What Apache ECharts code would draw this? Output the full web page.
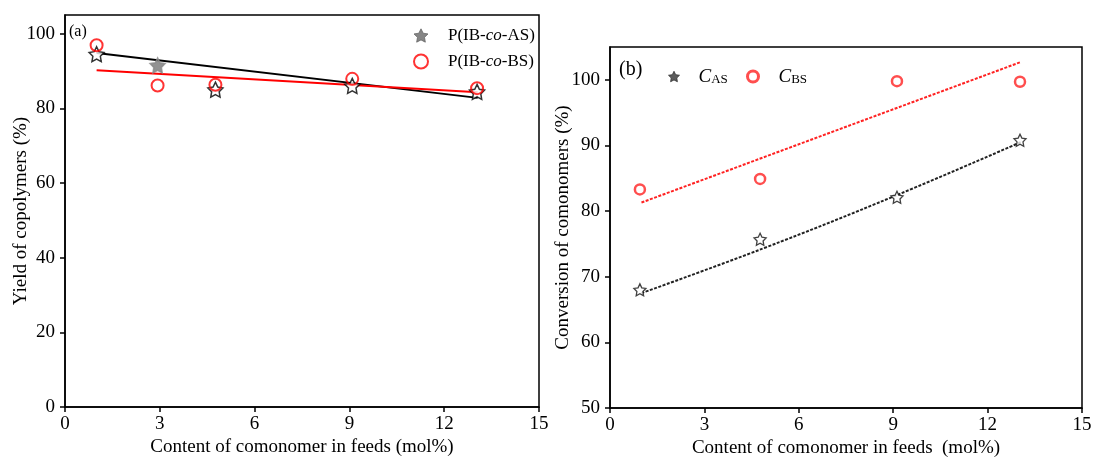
<!DOCTYPE html>
<html>
<head>
<meta charset="utf-8">
<script src="https://cdn.jsdelivr.net/npm/echarts@6/dist/echarts.min.js"></script>
<style>
html,body{margin:0;padding:0;background:#fff;}
#c{width:1094px;height:457px;}
</style>
</head>
<body>
<div id="c"></div>
<script>
// ---- data ----
const xTicks = [0, 3, 6, 9, 12, 15];
const yTicksA = [0, 20, 40, 60, 80, 100];
const yTicksB = [50, 60, 70, 80, 90, 100];

// panel (a)
const feedA = [1.0, 2.93, 4.76, 9.09, 13.04];
const yieldAS = [94.5, 91.5, 85.0, 86.0, 84.4];
const yieldBS = [96.9, 86.1, 86.3, 87.9, 85.4];
const fitXA = [1.0, 13.06];
const fitAS_A = [94.8, 82.8];
const fitBS_A = [90.2, 84.3];

// panel (b)
const feedB = [0.95, 4.77, 9.12, 13.03];
const convAS = [68.0, 75.7, 82.1, 90.8];
const convBS = [83.3, 84.9, 99.8, 99.7];
const curveX_AS = [1.0, 4.86, 9.1, 13.1];
const curveY_AS = [67.5, 74.3, 82.4, 90.6];
const fitXB = [1.0, 13.05];
const fitBS_B = [81.3, 102.7];

const FONT = 'Liberation Serif';
const STAR = 'path://M0,-10 L2.94,-4.05 9.51,-3.09 4.76,1.55 5.88,8.09 0,5 -5.88,8.09 -4.76,1.55 -9.51,-3.09 -2.94,-4.05 Z';

const zip = (xs, ys) => xs.map((x, i) => [x, ys[i]]);

function xAxis(gridIndex) {
  return {
    type: 'value', gridIndex, min: 0, max: 15, interval: 3,
    name: 'Content of comonomer in feeds ' + (gridIndex ? ' (mol%)' : '(mol%)'),
    nameLocation: 'middle', nameGap: 31, nameMoveOverlap: false,
    nameTextStyle: {fontFamily: FONT, fontSize: 19, color: '#000'},
    axisLine: {show: true, lineStyle: {color: '#000', width: 1.5}},
    axisTick: {show: true, inside: false, length: 5, customValues: xTicks, lineStyle: {color: '#000', width: 1.5}},
    axisLabel: {fontFamily: FONT, fontSize: 19, color: '#000', margin: 8, customValues: xTicks},
    splitLine: {show: false}
  };
}
function yAxis(gridIndex, min, max, ticks, name, gap) {
  return {
    type: 'value', gridIndex, min, max,
    name, nameLocation: 'middle', nameGap: gap, nameMoveOverlap: false,
    nameTextStyle: {fontFamily: FONT, fontSize: 19, color: '#000'},
    axisLine: {show: true, lineStyle: {color: '#000', width: 1.5}},
    axisTick: {show: true, inside: false, length: 5, customValues: ticks, lineStyle: {color: '#000', width: 1.5}},
    axisLabel: {fontFamily: FONT, fontSize: 19, color: '#000', margin: 10, customValues: ticks},
    splitLine: {show: false}
  };
}

const option = {
  animation: false,
  backgroundColor: '#fff',
  grid: [
    {left: 65, right: 555, top: 15, bottom: 50, show: true, borderColor: '#000', borderWidth: 1.5,
     outerBoundsMode: 'none', containLabel: false},
    {left: 610, right: 12, top: 47, bottom: 49, show: true, borderColor: '#000', borderWidth: 1.5,
     outerBoundsMode: 'none', containLabel: false}
  ],
  xAxis: [xAxis(0), xAxis(1)],
  yAxis: [
    yAxis(0, 0, 105, yTicksA, 'Yield of copolymers (%)', 34),
    yAxis(1, 50, 105, yTicksB, 'Conversion of comonomers (%)', 37)
  ],
  legend: [
    {
      orient: 'vertical', left: 408, top: 22, itemWidth: 14, itemHeight: 14, itemGap: 9,
      data: [
        {name: 'P(IB-co-AS)', icon: STAR, itemStyle: {color: '#666', borderColor: '#666', borderWidth: 1}},
        {name: 'P(IB-co-BS)', icon: 'circle', itemStyle: {color: '#fff', borderColor: '#f00', borderWidth: 2}}
      ],
      formatter: n => n === 'P(IB-co-AS)' ? '{t|P(IB-}{i|co}{t|-AS)}' : '{t|P(IB-}{i|co}{t|-BS)}',
      textStyle: {
        padding: [0, 0, 0, 15],
        rich: {
          t: {fontFamily: FONT, fontSize: 17, color: '#000'},
          i: {fontFamily: FONT, fontSize: 17, color: '#000', fontStyle: 'italic'}
        }
      }
    },
    {
      left: 663, top: 62, itemWidth: 11, itemHeight: 11,
      data: [{name: 'CAS', icon: STAR, itemStyle: {color: '#333', borderColor: '#333', borderWidth: 1}}],
      formatter: () => '{c|C}{s|AS}',
      textStyle: {
        padding: [0, 0, 0, 14],
        rich: {
          c: {fontFamily: FONT, fontSize: 19, color: '#000', fontStyle: 'italic'},
          s: {fontFamily: FONT, fontSize: 13, color: '#000', padding: [6, 0, 0, 0]}
        }
      }
    },
    {
      left: 741, top: 62, itemWidth: 11, itemHeight: 11,
      data: [{name: 'CBS', icon: 'circle', itemStyle: {color: '#fff', borderColor: '#f22', borderWidth: 3}}],
      formatter: () => '{c|C}{s|BS}',
      textStyle: {
        padding: [0, 0, 0, 15],
        rich: {
          c: {fontFamily: FONT, fontSize: 19, color: '#000', fontStyle: 'italic'},
          s: {fontFamily: FONT, fontSize: 13, color: '#000', padding: [6, 0, 0, 0]}
        }
      }
    }
  ],
  graphic: [
    {type: 'text', left: 69, top: 24, style: {text: '(a)', font: '16px "Liberation Serif"', fill: '#000'}},
    {type: 'text', left: 619, top: 60, style: {text: '(b)', font: '20px "Liberation Serif"', fill: '#000'}}
  ],
  series: [
    // panel (a)
    {type: 'line', xAxisIndex: 0, yAxisIndex: 0, data: zip(fitXA, fitAS_A), symbol: 'none',
     lineStyle: {color: '#000', width: 2}, silent: true, z: 2},
    {type: 'line', xAxisIndex: 0, yAxisIndex: 0, data: zip(fitXA, fitBS_A), symbol: 'none',
     lineStyle: {color: '#f00', width: 2}, silent: true, z: 2},
    {name: 'P(IB-co-AS)', type: 'scatter', xAxisIndex: 0, yAxisIndex: 0, symbol: STAR, symbolSize: 15,
     itemStyle: {color: '#fff', borderColor: '#000', borderWidth: 1.5},
     data: zip(feedA, yieldAS).map((p, i) => i === 1 ? {value: p, itemStyle: {color: '#777', borderColor: '#888'}} : p), z: 3},
    {name: 'P(IB-co-BS)', type: 'scatter', xAxisIndex: 0, yAxisIndex: 0, symbol: 'circle', symbolSize: 12,
     itemStyle: {color: 'rgba(0,0,0,0)', borderColor: '#f00', borderWidth: 2},
     data: zip(feedA, yieldBS), z: 4},
    // panel (b)
    {type: 'line', xAxisIndex: 1, yAxisIndex: 1, data: zip(curveX_AS, curveY_AS), symbol: 'none', smooth: 0.4,
     lineStyle: {color: '#222', width: 2, type: [3, 1.5]}, silent: true, z: 2},
    {type: 'line', xAxisIndex: 1, yAxisIndex: 1, data: zip(fitXB, fitBS_B), symbol: 'none',
     lineStyle: {color: '#f22', width: 2, type: [3, 1.5]}, silent: true, z: 2},
    {name: 'CAS', type: 'scatter', xAxisIndex: 1, yAxisIndex: 1, symbol: STAR, symbolSize: 12,
     itemStyle: {color: '#fff', borderColor: '#111', borderWidth: 1.3},
     data: zip(feedB, convAS), z: 3},
    {name: 'CBS', type: 'scatter', xAxisIndex: 1, yAxisIndex: 1, symbol: 'circle', symbolSize: 10,
     itemStyle: {color: 'rgba(0,0,0,0)', borderColor: '#f22', borderWidth: 2.5},
     data: zip(feedB, convBS), z: 3}
  ]
};

const chart = echarts.init(document.getElementById('c'), null, {renderer: 'canvas'});
chart.setOption(option);
</script>
</body>
</html>
